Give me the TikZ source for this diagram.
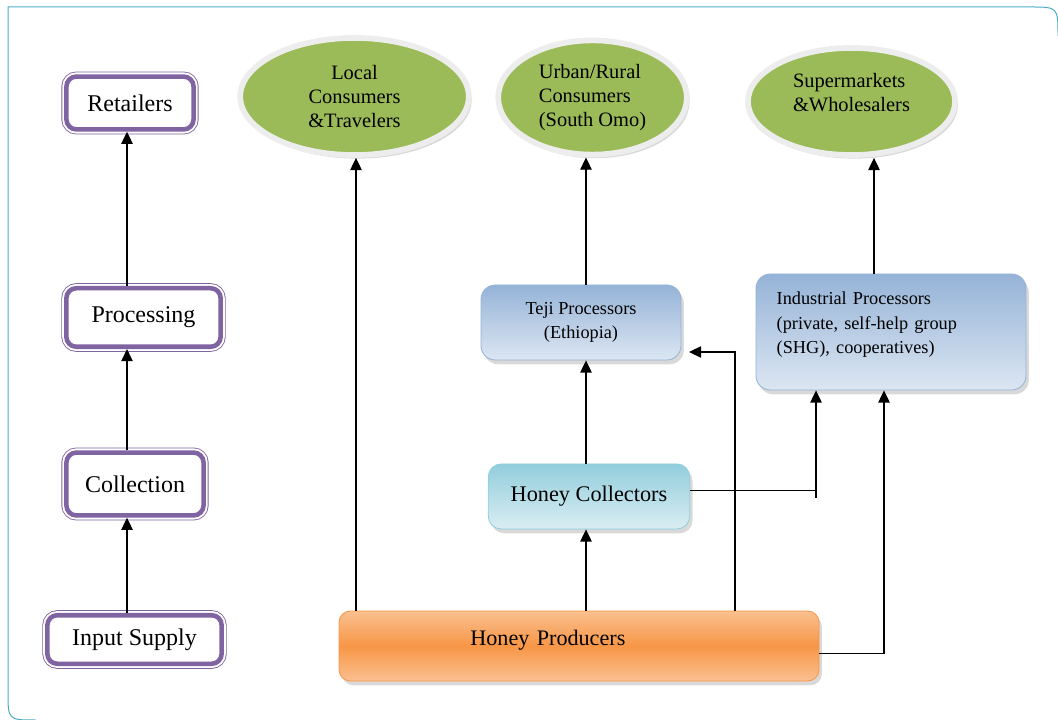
\documentclass[tikz,border=0pt]{standalone}
\usepackage{fontspec}
\setmainfont{Liberation Serif}
\usepackage{tikz}
\usetikzlibrary{arrows.meta,shapes,shadows,positioning}
\definecolor{purp}{HTML}{8064A2}
\definecolor{grn}{HTML}{9BBB59}
\definecolor{orD}{HTML}{F79646}
\definecolor{orL}{HTML}{FAC090}
\definecolor{bluD}{HTML}{95B3D7}
\definecolor{bluL}{HTML}{DCE6F2}
\definecolor{tealD}{HTML}{92CDDC}
\definecolor{tealL}{HTML}{DAEEF3}
\definecolor{framec}{HTML}{4BACC6}
\tikzstyle{arrow}=[draw,-{Triangle[length=8.5pt,width=8pt]},line width=0.8pt]
\tikzstyle{stage} =
  [rectangle, rounded corners=7pt, fill=white, draw=purp, line width=3.2pt,
   preaction={draw=purp, line width=7pt},
   preaction={draw=white, line width=5.8pt},
   font=\fontsize{16.8}{19}\selectfont]
\tikzstyle{market} =
  [ellipse, fill=grn, draw=black!7, line width=4pt, inner sep=0pt,
   drop shadow={shadow xshift=2pt, shadow yshift=-2.5pt, opacity=0.3},
   font=\fontsize{14.3}{16.6}\selectfont]
\tikzstyle{procbox} =
  [rectangle, rounded corners=10pt, draw=bluD, line width=0.6pt,
   top color=bluD, bottom color=bluL,
   drop shadow={shadow xshift=2pt, shadow yshift=-3pt, opacity=0.3},
   font=\fontsize{12.8}{17}\selectfont]
\tikzstyle{collbox} =
  [rectangle, rounded corners=9pt, draw=tealD, line width=0.6pt,
   top color=tealD, bottom color=tealL,
   drop shadow={shadow xshift=2pt, shadow yshift=-3pt, opacity=0.3},
   font=\fontsize{15.6}{18}\selectfont]
\tikzstyle{prodbox} =
  [rectangle, rounded corners=8pt, draw=orD, line width=0.6pt,
   top color=orL, bottom color=orL, middle color=orD,
   drop shadow={shadow xshift=2pt, shadow yshift=-3pt, opacity=0.3},
   font=\fontsize{15.5}{18}\selectfont]
\tikzstyle{frame}=[draw=framec, line width=0.7pt]

\begin{document}
\begin{tikzpicture}[x=0.7pt,y=-0.7pt]
  \useasboundingbox (0,0) rectangle (1058,720);
  \draw [frame] (1058,36) .. controls (1058,7) .. (1030,7) -- (8,7)
    -- (8,692) .. controls (8,720) .. (36,720);

  % stages of the chain
  \node [stage, minimum width=89pt, minimum height=37pt] (ret) at (130,103) {Retailers};
  \node [stage, minimum width=108pt, minimum height=41pt] (proc) at (143.5,317.5) {Processing};
  \node [stage, minimum width=96pt, minimum height=44pt] (col) at (135,484) {Collection};
  \node [stage, minimum width=122pt, minimum height=34pt] (inp) at (134.5,639.5) {Input Supply};

  % markets
  \node [market, minimum width=160pt, minimum height=82pt, align=center] (loc) at (354.5,96.5)
    {Local\\Consumers\\\&Travelers};
  \node [market, minimum width=132pt, minimum height=80pt, align=left] (urb) at (592.5,97.5)
    {Urban/Rural\\Consumers\\(South Omo)};
  \node [market, minimum width=145pt, minimum height=75pt, align=left,
    text height=26.6pt, text depth=13pt] (sup) at (851.5,101.5)
    {Supermarkets\\\&Wholesalers};

  % actors
  \node [procbox, minimum width=140pt, minimum height=52.5pt, align=center] (teji) at (581,322.5)
    {Teji Processors\\(Ethiopia)};
  \node [procbox, minimum width=189pt, text width=160pt, inner xsep=14.5pt, inner ysep=0pt,
    text height=21.7pt, text depth=59.5pt, align=left] (ind) at (891,332)
    {Industrial Processors\\(private, self-help group\\(SHG), cooperatives)};
  \node [collbox, minimum width=141pt, minimum height=45.5pt] (coll) at (589,496.5) {Honey Collectors};
  \node [prodbox, text width=336pt, inner xsep=0pt, inner ysep=0pt,
    text height=24pt, text depth=25pt, align=left] (prod) at (579,646)
    {\hspace*{92pt}Honey Producers};

  \coordinate (lx) at (127,0);
  \coordinate (lcx) at (356,0);
  \coordinate (cx) at (586,0);
  \coordinate (tjup) at (735,352);
  \coordinate (tjin) at (689,352);
  \coordinate (ci) at (816,498);
  \coordinate (pi) at (884,0);
  \coordinate (sx) at (874,0);

  \draw [arrow] (inp.north -| lx) to (col.south -| lx);
  \draw [arrow] (col.north -| lx) to (proc.south -| lx);
  \draw [arrow] (proc.north -| lx) to (ret.south -| lx);

  \draw [arrow] (prod.north -| lcx) to (loc.south -| lcx);
  \draw [arrow] (prod.north -| cx) to (coll.south -| cx);
  \draw [arrow] (coll.north -| cx) to (teji.south -| cx);
  \draw [arrow] (teji.north -| cx) to (urb.south -| cx);
  \draw [arrow] (prod.north -| tjup) -- (tjup) -- (tjin);
  \draw [line width=0.8pt] ([yshift=4pt]coll.east) -- ([yshift=4pt]coll.east -| ci);
  \draw [arrow] (ci) to (ind.south -| ci);
  \draw [arrow] ([yshift=-5.5pt]prod.east) -| (ind.south -| pi);
  \draw [arrow] (ind.north -| sx) to (sup.south -| sx);
\end{tikzpicture}
\end{document}
